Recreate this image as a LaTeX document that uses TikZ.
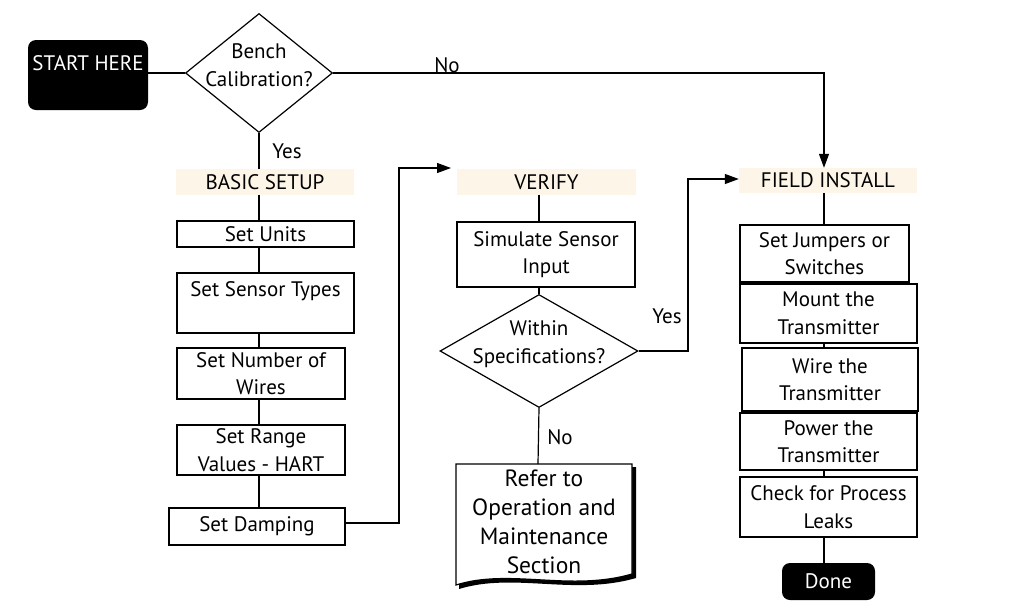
\documentclass[tikz,border=0pt]{standalone}
\usepackage{fontspec}
\setmainfont{PT Sans}
\usetikzlibrary{shapes.geometric,arrows.meta,calc}
\definecolor{hdr}{RGB}{253,246,232}
\begin{document}
\begin{tikzpicture}[x=1pt,y=-1pt,
  every node/.style={font=\fontsize{21}{27.5}\selectfont},
  box/.style={draw, line width=1.2pt, align=center, inner sep=0pt},
  header/.style={fill=hdr, align=center, inner sep=0pt},
  term/.style={fill=black, text=white, rounded corners=8pt, inner sep=0pt},
  dec/.style={draw, diamond, line width=1.2pt, inner sep=0pt},
  conn/.style={line width=1.2pt},
  arr/.style={conn, -{Triangle[length=14pt,width=10pt]}},
  lbl/.style={inner sep=1pt}
]
\useasboundingbox (0,0) rectangle (1029,606);

% start
\node[term, minimum width=120pt, minimum height=70pt] (start) at (88,75) {};
\node[text=white, inner sep=0pt] (starttxt) at (88,63) {START HERE};
\node[dec, minimum width=147pt, minimum height=119pt] (bench) at (259,73) {};
\node[align=center, inner sep=0pt] (benchtxt) at (259,65) {Bench\\Calibration?};

% basic setup column
\node[header, minimum width=178pt, minimum height=26pt] (basic) at (265,182) {BASIC SETUP};
\node[box, minimum width=177pt, minimum height=26pt] (units) at (265.5,234) {Set Units};
\node[box, minimum width=177pt, minimum height=60pt] (sensor) at (265.5,303) {Set Sensor Types\\\mbox{}};
\node[box, minimum width=168pt, minimum height=51pt] (wires) at (261,373.5) {Set Number of\\Wires};
\node[box, minimum width=168pt, minimum height=50pt] (range) at (261,450) {Set Range\\Values - HART};
\node[box, minimum width=176pt, minimum height=37pt] (damp) at (257,526.5) {Set Damping};

% verify column
\node[header, minimum width=179pt, minimum height=26pt] (verify) at (546.5,182) {VERIFY};
\node[box, minimum width=178pt, minimum height=65pt] (sim) at (546,254.5) {Simulate Sensor\\Input};
\node[dec, minimum width=198pt, minimum height=113pt] (within) at (539,351) {};
\node[align=center, inner sep=0pt] (withintxt) at (539,344) {Within\\Specifications?};
\fill[black] (459,467) -- (636,467) -- (636,578) .. controls (574,596) and (514,572) .. (459,589) -- cycle;
\draw[fill=white, line width=1.2pt] (456,464) -- (632,464) -- (632,574) .. controls (570,592) and (510,568) .. (456,585) -- cycle;
\node[align=center, inner sep=0pt, font=\fontsize{23.5}{29}\selectfont] (doc) at (544,522) {Refer to\\Operation and\\Maintenance\\Section};
\coordinate (doctop) at (538,464);

% field install column
\node[header, minimum width=178pt, minimum height=25pt] (field) at (828,180.5) {FIELD INSTALL};
\node[box, minimum width=169pt, minimum height=57pt] (jump) at (824.5,253.5) {Set Jumpers or\\Switches};
\node[box, minimum width=177pt, minimum height=59pt] (mount) at (828.5,313.5) {Mount the\\Transmitter};
\node[box, minimum width=176pt, minimum height=63pt] (wire) at (830,379.5) {Wire the\\Transmitter};
\node[box, minimum width=177pt, minimum height=57pt] (power) at (828.5,441.5) {Power the\\Transmitter};
\node[box, minimum width=177pt, minimum height=60pt] (check) at (828.5,507) {Check for Process\\Leaks};
\node[term, minimum width=93pt, minimum height=37pt] (done) at (828.5,581.5) {Done};

% connectors
\draw[conn] (start.east |- bench.west) -- (bench.west);
\draw[arr] (bench.east) -- (824,73) -- (field.north -| 824,0);
\node[lbl] (nolbl1) at (447,65) {No};
\draw[conn] (bench.south) -- (basic.north -| bench.south);
\node[lbl] (yeslbl1) at (287,151) {Yes};
\draw[conn] (basic.south -| bench.south) -- (units.north -| bench.south);
\draw[conn] (units.south -| bench.south) -- (sensor.north -| bench.south);
\draw[conn] (sensor.south -| bench.south) -- (wires.north -| bench.south);
\draw[conn] (wires.south -| bench.south) -- (range.north -| bench.south);
\draw[conn] (range.south -| bench.south) -- (damp.north -| bench.south);
\draw[arr] (damp.east |- 0,523) -- (399,523) -- (399,168) -- (451,168);

\draw[conn] (verify.south -| within.north) -- (sim.north -| within.north);
\draw[conn] (sim.south -| within.north) -- (within.north);
\draw[conn] (within.south) -- (doctop);
\node[lbl] (nolbl2) at (560,437) {No};
\draw[arr] (within.east) -- (688,351) -- (688,179) -- (field.west |- 0,179);
\node[lbl] (yeslbl2) at (667,316) {Yes};

\draw[conn] (field.south -| 824,0) -- (jump.north -| 824,0);
\draw[conn] (jump.south -| 824,0) -- (mount.north -| 824,0);
\draw[conn] (mount.south -| 824,0) -- (wire.north -| 824,0);
\draw[conn] (wire.south -| 824,0) -- (power.north -| 824,0);
\draw[conn] (power.south -| 824,0) -- (check.north -| 824,0);
\draw[conn] (check.south -| 824,0) -- (done.north -| 824,0);
\end{tikzpicture}
\end{document}
